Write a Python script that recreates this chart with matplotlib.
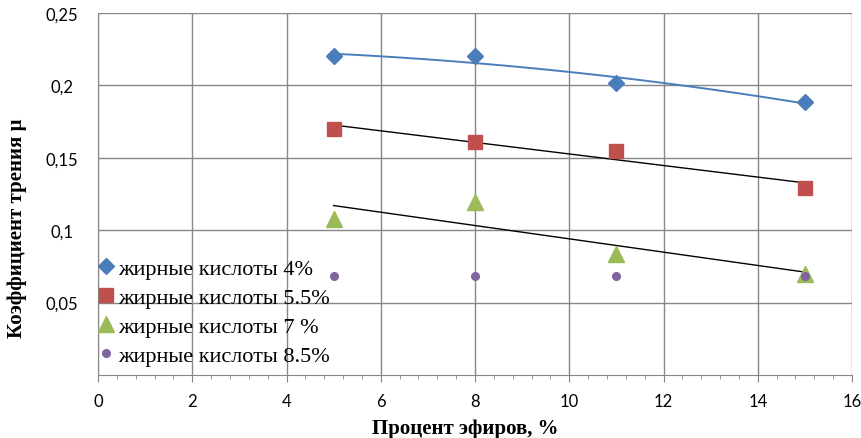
import numpy as np
import matplotlib
matplotlib.use("Agg")
import matplotlib.pyplot as plt
from matplotlib.ticker import MultipleLocator

x = [5, 8, 11, 15]
s4 = [0.2203, 0.2200, 0.2017, 0.1885]
s55 = [0.1700, 0.1610, 0.1547, 0.1290]
s7 = [0.1080, 0.1195, 0.0836, 0.0697]
s85 = [0.0684, 0.0684, 0.0684, 0.0684]
labels = ["жирные кислоты 4%", "жирные кислоты 5.5%", "жирные кислоты 7 %", "жирные кислоты 8.5%"]
xticks = [0, 2, 4, 6, 8, 10, 12, 14, 16]
yticks = [0.05, 0.1, 0.15, 0.2, 0.25]
ytick_labels = ["0,05", "0,1", "0,15", "0,2", "0,25"]

fig = plt.figure(figsize=(8.62, 4.39), dpi=100)
ax = fig.add_axes([0.1137, 0.1435, 0.8747, 0.8245])

grid_c = "#878787"
ax.set_xlim(0, 16)
ax.set_ylim(0, 0.25)
ax.set_xticks(xticks)
ax.set_yticks(yticks)
ax.set_yticklabels(ytick_labels)
ax.xaxis.set_minor_locator(MultipleLocator(0.4))
ax.grid(True, color=grid_c, linewidth=1.0)
ax.set_axisbelow(True)
for s in ["top", "right"]:
    ax.spines[s].set_visible(False)
for s in ["left", "bottom"]:
    ax.spines[s].set_color(grid_c)
ax.tick_params(axis="x", which="major", length=5, color=grid_c, direction="out", pad=8)
ax.tick_params(axis="x", which="minor", length=3, color=grid_c, direction="out")
ax.tick_params(axis="y", length=0, pad=26)
for lab in ax.get_xticklabels() + ax.get_yticklabels():
    lab.set_fontfamily("Lato")
    lab.set_fontsize(12)
for lab in ax.get_yticklabels():
    lab.set_horizontalalignment("center")

blue, red, green, purple = "#4A7EBB", "#C0504D", "#9BBB59", "#8064A2"

ax.plot(x, s4, linestyle="none", marker="D", markersize=8, color=blue, label=labels[0], zorder=4)
ax.plot(x, s55, linestyle="none", marker="s", markersize=10, color=red, label=labels[1], zorder=4)
ax.plot(x, s7, linestyle="none", marker="^", markersize=12, color=green, label=labels[2], zorder=4)
ax.plot(x, s85, linestyle="none", marker="o", markersize=5.5, color=purple, label=labels[3], zorder=4)

xs = np.linspace(min(x), max(x), 100)
p2 = np.polyfit(x, s4, 2)
ax.plot(xs, np.polyval(p2, xs), color=blue, linewidth=1.4, zorder=3)
p1 = np.polyfit(x, s55, 1)
ax.plot(xs, np.polyval(p1, xs), color="black", linewidth=1.0, zorder=3)
p1b = np.polyfit(x, s7, 1)
ax.plot(xs, np.polyval(p1b, xs), color="black", linewidth=1.0, zorder=3)

leg = ax.legend(loc="upper left", bbox_to_anchor=(-0.004, 0.334), frameon=False,
                prop={"family": "Liberation Serif", "size": 16},
                handlelength=0.6, handletextpad=0.25, labelspacing=0.38,
                borderaxespad=0.0, borderpad=0.2)

ax.set_xlabel("Процент эфиров, %", fontfamily="Liberation Serif", fontweight="bold", fontsize=15)
ax.set_ylabel("Коэффициент трения μ", fontfamily="Liberation Serif", fontweight="bold", fontsize=15)
ax.xaxis.set_label_coords(0.487, -0.118)
ax.yaxis.set_label_coords(-0.094, 0.409)

fig.savefig("out.png", dpi=100)
